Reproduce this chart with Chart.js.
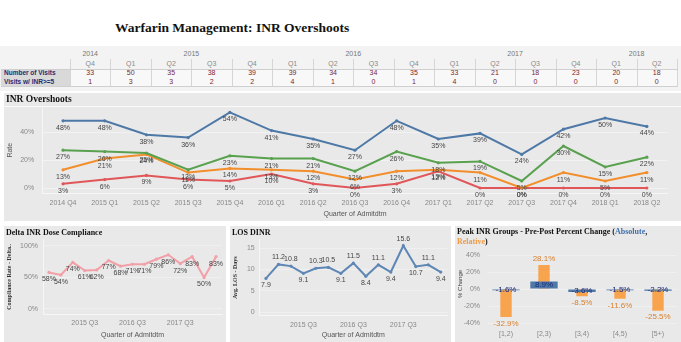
<!DOCTYPE html>
<html>
<head>
<meta charset="utf-8">
<script src="https://cdn.jsdelivr.net/npm/chart.js@4.4.0/dist/chart.umd.min.js"></script>
<style>
body { margin:0; background:#fff; width:681px; height:342px; overflow:hidden; position:relative; font-family:'Liberation Sans', Arial, sans-serif; }
.panel { position:absolute; background:#e9e9e9; }
.ptitle { position:absolute; font-family:'Liberation Serif','Times New Roman',serif; font-weight:bold; color:#111; white-space:nowrap; }
.panel canvas { position:absolute; left:0; top:0; }
#table div { position:absolute; white-space:nowrap; }
</style>
</head>
<body>

<div class="ptitle" style="left:115px;top:19px;font-size:13.5px;line-height:17px;">Warfarin Management: INR Overshoots</div>

<div id="table" style="position:absolute;left:0;top:46px;width:681px;height:45px;background:#f3f3f3;"></div>

<div class="panel" style="left:4px;top:93px;width:677px;height:128px;">
  <canvas id="inr" width="677" height="128"></canvas>
  <div style="position:absolute;left:0;top:13px;width:677px;height:1px;background:#fafafa;"></div>
  <div class="ptitle" style="left:2px;top:1px;font-size:9.5px;line-height:11px;">INR Overshoots</div>
</div>

<div class="panel" style="left:4px;top:226px;width:222px;height:116px;">
  <canvas id="delta" width="222" height="116"></canvas>
  <div class="ptitle" style="left:2px;top:2px;font-size:8px;line-height:10px;">Delta INR Dose Compliance</div>
</div>

<div class="panel" style="left:230px;top:226px;width:221px;height:116px;">
  <canvas id="los" width="221" height="116"></canvas>
  <div class="ptitle" style="left:2px;top:2px;font-size:8px;line-height:10px;">LOS DINR</div>
</div>

<div class="panel" style="left:455px;top:226px;width:226px;height:116px;">
  <canvas id="peak" width="226" height="116"></canvas>
  <div class="ptitle" style="left:2px;top:1px;font-size:8px;line-height:10px;">Peak INR Groups - Pre-Post Percent Change (<span style="color:#3f6fae">Absolute</span>,<br><span style="color:#f09a45">Relative</span>)</div>
</div>

<script>
const quarters = ['2014 Q4','2015 Q1','2015 Q2','2015 Q3','2015 Q4','2016 Q1','2016 Q2','2016 Q3','2016 Q4','2017 Q1','2017 Q2','2017 Q3','2017 Q4','2018 Q1','2018 Q2'];
const numberOfVisits = [33, 50, 35, 38, 39, 39, 34, 34, 35, 33, 21, 18, 23, 20, 18];
const visitsInrGe5 = [1, 3, 3, 2, 2, 4, 1, 0, 1, 4, 0, 0, 0, 0, 0];

const overshootBlue = [48, 48, 38, 36, 54, 41, 35, 27, 48, 35, 39, 24, 42, 50, 44];
const overshootGreen = [27, 26, 25, 13, 23, 21, 21, 12, 26, 18, 19, 5, 30, 15, 22];
const overshootOrange = [13, 21, 24, 11, 14, 13, 12, 6, 12, 13, 11, 0, 11, 5, 11];
const overshootRed = [3, 6, 9, 6, 5, 10, 3, 0, 3, 12, 0, 0, 0, 0, 0];
const rateTicks = [0, 20, 40];

const doseCompliance = [58, 54, 74, 61, 62, 77, 68, 71, 71, 79, 86, 72, 83, 50, 83];
const complianceTicks = [0, 50, 100];

const losDays = [7.9, 11.2, 10.8, 9.1, 10.3, 10.5, 9.1, 11.5, 8.4, 11.1, 9.4, 15.6, 10.7, 11.1, 9.4];
const losTicks = [0, 5, 10, 15];

const inrGroups = ['[1,2)', '[2,3)', '[3,4)', '[4,5)', '[5+)'];
const changeAbsolute = [-1.6, 8.9, -3.6, -1.5, -2.2];
const changeRelative = [-32.9, 28.1, -8.5, -11.6, -25.5];
const changeTicks = [-40, -20, 0, 20, 40];

Chart.defaults.font.family = "'Liberation Sans', Arial, sans-serif";
Chart.defaults.font.size = 7;
Chart.defaults.color = '#888';

// ---- header table
const tbl = document.getElementById('table');
const col0 = 70, colW = 607 / 15;
function put(text, x, y, w, css) {
    const d = document.createElement('div');
    d.textContent = text;
    d.style.cssText = 'left:' + x + 'px;top:' + (y - 5) + 'px;width:' + w + 'px;height:10px;line-height:10px;' + css;
    tbl.appendChild(d);
}
function line(x, y, w, h, c) {
    const d = document.createElement('div');
    d.style.cssText = 'left:' + x + 'px;top:' + y + 'px;width:' + w + 'px;height:' + h + 'px;background:' + c + ';';
    tbl.appendChild(d);
}
line(1, 22.5, col0 - 1, 18, '#d9d9d9');
line(col0, 22.5, 607, 18, '#f8f8f8');
let start = 0;
quarters.forEach((q, i) => {
    const yr = q.slice(0, 4);
    put(q.slice(5), col0 + i * colW, 18, colW, 'text-align:center;font-size:7px;color:#8a8a8a;');
    put(String(numberOfVisits[i]), col0 + i * colW, 27, colW, 'text-align:center;font-size:7px;color:#7a1f33;');
    put(String(visitsInrGe5[i]), col0 + i * colW, 36, colW, 'text-align:center;font-size:7px;color:#7a1f33;');
    if (i === quarters.length - 1 || quarters[i + 1].slice(0, 4) !== yr) {
        put(yr, col0 + start * colW, 8, (i - start + 1) * colW, 'text-align:center;font-size:7px;color:#777;');
        start = i + 1;
    }
});
for (let i = 0; i <= quarters.length; i++) line(col0 + i * colW, 13, 1, 27.5, '#d6d6d6');
line(1, 22.5, col0 + 607, 1, '#cfcfcf');
line(1, 40, col0 + 607, 1, '#cfcfcf');
put('Number of Visits', 4, 27, 66, 'font-size:6.5px;font-weight:bold;color:#1f2c73;');
put('Visits w/ INR>=5', 4, 36, 66, 'font-size:6.5px;font-weight:bold;color:#1f2c73;');

// ---- value labels drawn next to the marks
const valueLabels = {
    id: 'valueLabels',
    afterDatasetsDraw(chart) {
        const ctx = chart.ctx;
        chart.data.datasets.forEach((ds, i) => {
            const cfg = ds.vlabel;
            if (!cfg) return;
            const meta = chart.getDatasetMeta(i);
            ctx.save();
            ctx.font = cfg.font;
            ctx.fillStyle = cfg.color;
            ctx.textAlign = 'center';
            ctx.textBaseline = 'middle';
            meta.data.forEach((el, j) => {
                const v = ds.data[j];
                let y;
                if (cfg.pos === 'center') y = (el.y + el.base) / 2;
                else if (cfg.pos === 'end') y = v >= 0 ? el.y - cfg.offset : el.y + cfg.offset;
                else if (cfg.pos === 'peak') {
                    const nb = [ds.data[j - 1], ds.data[j + 1]].filter(n => n !== undefined);
                    const avg = nb.reduce((a, b) => a + b, 0) / nb.length;
                    y = v >= avg ? el.y - cfg.offset : el.y + cfg.offset;
                } else y = el.y + cfg.offset;
                ctx.fillText(cfg.fmt(v), el.x, y);
            });
            ctx.restore();
        });
    }
};

const base = {
    responsive: false,
    animation: false,
    events: [],
    plugins: { legend: { display: false }, tooltip: { enabled: false } }
};
const fixed = ticks => s => { s.ticks = ticks.map(v => ({ value: v })); };

function lineSet(data, color, fmt, pos) {
    return {
        data: data, borderColor: color, backgroundColor: color, borderWidth: 2,
        pointRadius: 1.6, pointBorderWidth: 0, tension: 0,
        vlabel: { font: "7px 'Liberation Sans', Arial", color: '#444', offset: 7, fmt: fmt, pos: pos }
    };
}
const pct = v => v + '%';

// ---- INR Overshoots
new Chart(document.getElementById('inr'), {
    type: 'line',
    data: {
        labels: quarters,
        datasets: [
            lineSet(overshootBlue, '#4e79a7', pct),
            lineSet(overshootGreen, '#59a14f', pct),
            lineSet(overshootOrange, '#f28e2b', pct),
            lineSet(overshootRed, '#e15759', pct)
        ]
    },
    options: Object.assign({}, base, {
        layout: { padding: { left: 0, right: 13.3, top: 13.8, bottom: 0 } },
        scales: {
            x: {
                offset: true,
                grid: { display: false, drawTicks: false },
                border: { color: '#f6f6f6' },
                ticks: { padding: 5, maxRotation: 0, autoSkip: false },
                title: { display: true, text: 'Quarter of Admitdtm', color: '#555', font: { size: 7 }, padding: { top: 2, bottom: 3 } },
                afterFit: s => { s.height = 27.4; }
            },
            y: {
                min: -4, max: 58,
                afterBuildTicks: fixed(rateTicks),
                grid: { color: '#f2f2f2', drawTicks: false },
                border: { color: '#f6f6f6' },
                ticks: { padding: 8, callback: pct },
                title: { display: true, text: 'Rate', color: '#555', font: { size: 7 }, padding: { top: 2, bottom: 2 } },
                afterFit: s => { s.width = 38.2; }
            }
        }
    }),
    plugins: [valueLabels]
});

const q3only = function (v, i) { return quarters[i].endsWith('Q3') ? quarters[i] : ''; };

// ---- Delta INR Dose Compliance
new Chart(document.getElementById('delta'), {
    type: 'line',
    data: { labels: quarters, datasets: [lineSet(doseCompliance, '#f2a0a7', pct)] },
    options: Object.assign({}, base, {
        layout: { padding: { left: 0, right: 2, top: 13.7, bottom: 0 } },
        scales: {
            x: {
                offset: true,
                grid: { display: false, drawTicks: false },
                border: { color: '#f6f6f6' },
                ticks: { padding: 5, maxRotation: 0, autoSkip: false, callback: q3only },
                title: { display: true, text: 'Quarter of Admitdtm', color: '#555', font: { size: 7 }, padding: { top: 2, bottom: 3 } },
                afterFit: s => { s.height = 28; }
            },
            y: {
                min: -8, max: 110,
                afterBuildTicks: fixed(complianceTicks),
                grid: { color: '#f0f0f0', drawTicks: false },
                border: { color: '#f6f6f6' },
                ticks: { padding: 5, callback: pct },
                title: { display: true, text: 'Compliance Rate - Delta..', color: '#333', font: { size: 6, family: "'Liberation Serif', serif", weight: 'bold' }, padding: { top: 2, bottom: 2 } },
                afterFit: s => { s.width = 39; }
            }
        }
    }),
    plugins: [valueLabels]
});

// ---- LOS DINR
new Chart(document.getElementById('los'), {
    type: 'line',
    data: { labels: quarters, datasets: [lineSet(losDays, '#5f87b5', v => v.toFixed(1), 'peak')] },
    options: Object.assign({}, base, {
        layout: { padding: { left: 0, right: 1.3, top: 13.75, bottom: 0 } },
        scales: {
            x: {
                offset: true,
                grid: { display: false, drawTicks: false },
                border: { color: '#f6f6f6' },
                ticks: { padding: 5, maxRotation: 0, autoSkip: false, callback: q3only },
                title: { display: true, text: 'Quarter of Admitdtm', color: '#555', font: { size: 7 }, padding: { top: 2, bottom: 3 } },
                afterFit: s => { s.height = 26.6; }
            },
            y: {
                min: -0.8, max: 17,
                afterBuildTicks: fixed(losTicks),
                grid: { color: '#f0f0f0', drawTicks: false },
                border: { color: '#f6f6f6' },
                ticks: { padding: 5 },
                title: { display: true, text: 'Avg. LOS - Days', color: '#333', font: { size: 6, family: "'Liberation Serif', serif", weight: 'bold' }, padding: { top: 2, bottom: 2 } },
                afterFit: s => { s.width = 29.7; }
            }
        }
    }),
    plugins: [valueLabels]
});

// ---- Peak INR Groups
new Chart(document.getElementById('peak'), {
    type: 'bar',
    data: {
        labels: inrGroups,
        datasets: [
            {
                data: changeAbsolute, backgroundColor: '#4e79a7', grouped: false,
                barPercentage: 0.72, categoryPercentage: 1,
                vlabel: { font: "8px 'Liberation Sans', Arial", color: '#1b2a7a', fmt: v => v.toFixed(1) + '%', pos: 'center' }
            },
            {
                data: changeRelative, backgroundColor: '#f8a44f', grouped: false,
                barPercentage: 0.3, categoryPercentage: 1,
                vlabel: { font: "8px 'Liberation Sans', Arial", color: '#d9802f', offset: 6.5, fmt: v => v.toFixed(1) + '%', pos: 'end' }
            }
        ]
    },
    options: Object.assign({}, base, {
        layout: { padding: { left: 0, right: 4, top: 15.4, bottom: 0 } },
        scales: {
            x: {
                grid: { display: false, drawTicks: false },
                border: { display: false },
                ticks: { padding: 3, maxRotation: 0, autoSkip: false },
                afterFit: s => { s.height = 15.6; }
            },
            y: {
                min: -44, max: 56,
                afterBuildTicks: fixed(changeTicks),
                grid: { color: '#f0f0f0', drawTicks: false },
                border: { display: false },
                ticks: { padding: 7, callback: pct },
                title: { display: true, text: '% Change', color: '#444', font: { size: 6 }, padding: { top: 2, bottom: 2 } },
                afterFit: s => { s.width = 32; }
            }
        }
    }),
    plugins: [valueLabels]
});
</script>
</body>
</html>
